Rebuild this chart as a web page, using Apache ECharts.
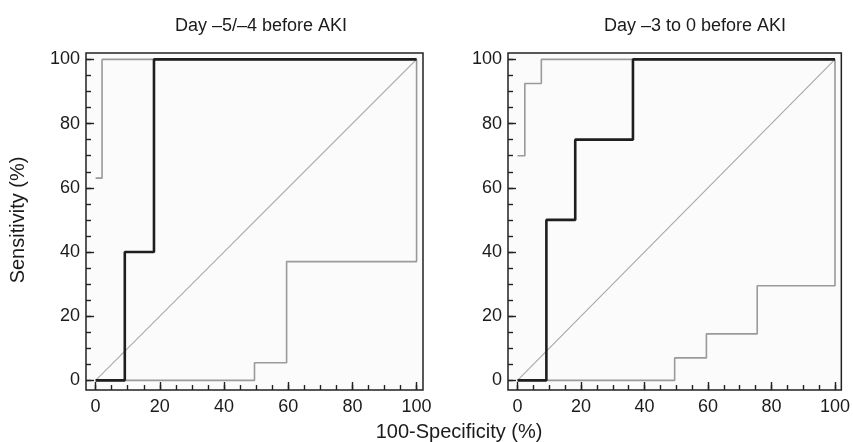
<!DOCTYPE html>
<html>
<head>
<meta charset="utf-8">
<script src="https://cdn.jsdelivr.net/npm/echarts@6/dist/echarts.min.js"></script>
<style>
  html, body { margin: 0; padding: 0; background: #fff; }
  #chart { width: 853px; height: 442px; }
</style>
</head>
<body>
<div id="chart"></div>
<script>
// Panel titles and axis titles
const panelTitles = ['Day \u20135/\u20134 before AKI', 'Day \u20133 to 0 before AKI'];
const xTitle = '100-Specificity (%)';
const yTitle = 'Sensitivity (%)';

// Tick marks (percent)
const majorTicks = [0, 20, 40, 60, 80, 100];
const minorTicks = [0, 5, 10, 15, 20, 25, 30, 35, 40, 45, 50, 55, 60, 65, 70, 75, 80, 85, 90, 95, 100];

// Reference diagonal (chance line)
const chanceLine = [[0, 0], [100, 100]];

// Day -5/-4: ROC curve with upper and lower confidence bounds, [100-specificity, sensitivity]
const rocEarly = [[0, 0], [9.09, 0], [9.09, 40], [18.18, 40], [18.18, 100], [100, 100]];
const upperEarly = [[0, 63], [2, 63], [2, 100], [100, 100]];
const lowerEarly = [[0, 0], [49.5, 0], [49.5, 5.5], [59.5, 5.5], [59.5, 37], [100, 37], [100, 100]];

// Day -3 to 0: ROC curve with upper and lower confidence bounds
const rocLate = [[0, 0], [9.09, 0], [9.09, 50], [18.18, 50], [18.18, 75], [36.36, 75], [36.36, 100], [100, 100]];
const upperLate = [[0, 70], [2.3, 70], [2.3, 92.5], [7.5, 92.5], [7.5, 100], [100, 100]];
const lowerLate = [[0, 0], [49.5, 0], [49.5, 7], [59.5, 7], [59.5, 14.5], [75.5, 14.5], [75.5, 29.5], [100, 29.5], [100, 100]];

const TEXT = '#1b1b1b';
const FONT = 'Liberation Sans, Arial, Helvetica, sans-serif';
const AX_MIN = -3, AX_MAX = 102;

const panels = [
  { left: 86, title: panelTitles[0], titleX: 256, roc: rocEarly, upper: upperEarly, lower: lowerEarly },
  { left: 508, title: panelTitles[1], titleX: 690, roc: rocLate, upper: upperLate, lower: lowerLate }
];

const grid = [], xAxis = [], yAxis = [], series = [], title = [];

const tickStyle = (len, customValues) => ({
  show: true, inside: true, length: len, customValues: customValues,
  lineStyle: { color: '#222', width: 1.4 }
});

panels.forEach((p, i) => {
  grid.push({
    left: p.left, top: 53, width: 337, height: 337,
    show: true, backgroundColor: '#fbfbfb', borderColor: '#222', borderWidth: 1.5
  });
  title.push({
    text: p.title, left: p.titleX, top: 12, textAlign: 'center',
    textStyle: { fontFamily: FONT, fontSize: 18, fontWeight: 'normal', color: TEXT }
  });

  const xi = xAxis.length, yi = yAxis.length;
  const common = {
    type: 'value', gridIndex: i, min: AX_MIN, max: AX_MAX,
    axisLine: { show: false, onZero: false }, splitLine: { show: false }
  };
  // major ticks with labels
  xAxis.push(Object.assign({}, common, {
    position: 'bottom',
    axisTick: tickStyle(8, majorTicks),
    axisLabel: { show: true, customValues: majorTicks, margin: 8, fontFamily: FONT, fontSize: 18, color: TEXT }
  }));
  yAxis.push(Object.assign({}, common, {
    position: 'left',
    axisTick: tickStyle(8, majorTicks),
    axisLabel: { show: true, customValues: majorTicks, margin: 6, fontFamily: FONT, fontSize: 18, color: TEXT }
  }));
  // minor ticks
  xAxis.push(Object.assign({}, common, {
    position: 'bottom', axisLabel: { show: false }, axisTick: tickStyle(5, minorTicks)
  }));
  yAxis.push(Object.assign({}, common, {
    position: 'left', axisLabel: { show: false }, axisTick: tickStyle(5, minorTicks)
  }));

  const base = { type: 'line', xAxisIndex: xi, yAxisIndex: yi, showSymbol: false, symbol: 'none', silent: true, animation: false, clip: false };
  series.push(Object.assign({}, base, { data: chanceLine, lineStyle: { color: '#a8a8a8', width: 1.1 }, z: 2 }));
  series.push(Object.assign({}, base, { data: p.lower, lineStyle: { color: '#9a9a9a', width: 1.6 }, z: 3 }));
  series.push(Object.assign({}, base, { data: p.upper, lineStyle: { color: '#9a9a9a', width: 1.6 }, z: 3 }));
  series.push(Object.assign({}, base, { data: p.roc, lineStyle: { color: '#1e1e1e', width: 2.6 }, z: 4 }));
});

const chart = echarts.init(document.getElementById('chart'), null, { renderer: 'canvas' });
chart.setOption({
  animation: false,
  backgroundColor: '#fff',
  title: title,
  grid: grid,
  xAxis: xAxis,
  yAxis: yAxis,
  series: series,
  graphic: [
    {
      type: 'text', x: 459, y: 432,
      style: { text: xTitle, fontFamily: FONT, fontSize: 20, fill: TEXT, align: 'center', verticalAlign: 'middle' }
    },
    {
      type: 'text', x: 18, y: 220, rotation: Math.PI / 2,
      style: { text: yTitle, fontFamily: FONT, fontSize: 20, fill: TEXT, align: 'center', verticalAlign: 'middle' }
    }
  ]
});
</script>
</body>
</html>
